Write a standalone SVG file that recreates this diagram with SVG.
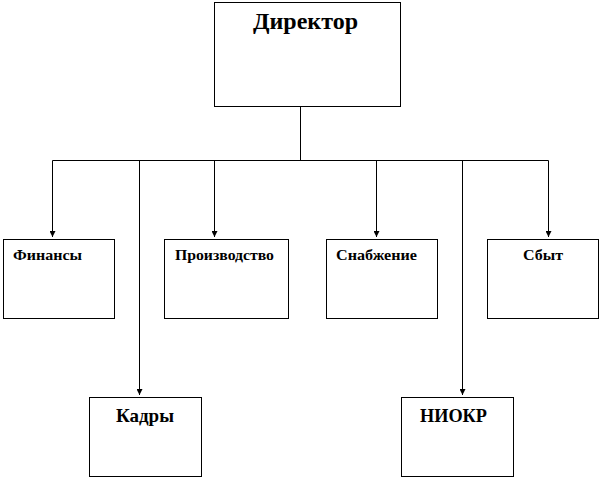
<svg xmlns="http://www.w3.org/2000/svg" width="602" height="479" viewBox="0 0 602 479">
<style>
.box{fill:#fff;stroke:#000;stroke-width:1}
.ln{fill:none;stroke:#000;stroke-width:1}
text{font-family:"Liberation Serif","Times New Roman",serif;font-weight:bold;fill:#000}
.s{font-size:14px}
.m{font-size:19px}
.l{font-size:24px}
</style>
<defs>
<marker id="ah" markerWidth="7" markerHeight="6" refX="6" refY="3" orient="auto" markerUnits="userSpaceOnUse">
<path d="M0,0 L6,3 L0,6 Z" fill="#000"/>
</marker>
</defs>
<rect width="602" height="479" fill="#fff"/>
<g id="connectors">
<path class="ln" d="M300.5,107 V160.5"/>
<path class="ln" d="M52.5,160.5 H548.5"/>
<path class="ln" d="M52.5,160.5 V237" marker-end="url(#ah)"/>
<path class="ln" d="M214.5,160.5 V237" marker-end="url(#ah)"/>
<path class="ln" d="M376.5,160.5 V237" marker-end="url(#ah)"/>
<path class="ln" d="M548.5,160.5 V237" marker-end="url(#ah)"/>
<path class="ln" d="M139.5,160.5 V395" marker-end="url(#ah)"/>
<path class="ln" d="M462.5,160.5 V395" marker-end="url(#ah)"/>
</g>
<g id="director">
<rect class="box" x="214.5" y="2.5" width="186" height="104"/>
<text class="l" x="253" y="29" textLength="105" lengthAdjust="spacingAndGlyphs">Директор</text>
</g>
<g id="finance">
<rect class="box" x="3.5" y="239.5" width="111" height="79"/>
<text class="s" x="13" y="260" textLength="69" lengthAdjust="spacingAndGlyphs">Финансы</text>
</g>
<g id="production">
<rect class="box" x="164.5" y="239.5" width="124" height="79"/>
<text class="s" x="175" y="260" textLength="99" lengthAdjust="spacingAndGlyphs">Производство</text>
</g>
<g id="supply">
<rect class="box" x="326.5" y="239.5" width="111" height="79"/>
<text class="s" x="336" y="260" textLength="81" lengthAdjust="spacingAndGlyphs">Снабжение</text>
</g>
<g id="sales">
<rect class="box" x="487.5" y="239.5" width="111" height="79"/>
<text class="s" x="523" y="260" textLength="40" lengthAdjust="spacingAndGlyphs">Сбыт</text>
</g>
<g id="hr">
<rect class="box" x="89.5" y="397.5" width="112" height="79"/>
<text class="m" x="116" y="422" textLength="58" lengthAdjust="spacingAndGlyphs">Кадры</text>
</g>
<g id="rnd">
<rect class="box" x="401.5" y="397.5" width="112" height="79"/>
<text class="m" x="420" y="422" textLength="67" lengthAdjust="spacingAndGlyphs">НИОКР</text>
</g>
</svg>
